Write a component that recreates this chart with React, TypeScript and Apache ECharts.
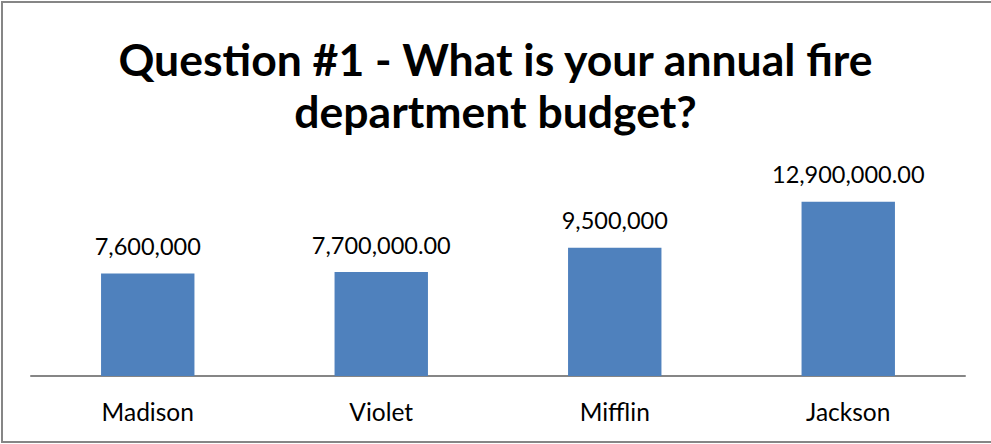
import React, { useEffect, useRef } from "react";
import * as echarts from "echarts";

const categories = ["Madison", "Violet", "Mifflin", "Jackson"];
const budgets = [7600000, 7700000, 9500000, 12900000];
const budgetLabels = ["7,600,000", "7,700,000.00", "9,500,000", "12,900,000.00"];
const titleLines = ["Question #1 - What is your annual fire", "department budget?"];

export default function App() {
  const ref = useRef<HTMLDivElement>(null);
  useEffect(() => {
    if (!ref.current) return;
    const chart = echarts.init(ref.current, null, { renderer: "svg" });
    chart.setOption({
      animation: false,
      backgroundColor: "#ffffff",
      textStyle: { fontFamily: "Lato" },
      title: {
        text: titleLines.join("\n"),
        left: "center",
        top: 27,
        textStyle: {
          fontFamily: "Lato",
          fontWeight: "bold",
          fontSize: 44.5,
          lineHeight: 52,
          color: "#000000",
        },
      },
      graphic: [
        {
          type: "polyline",
          shape: { points: [[1200, 2], [2, 2], [2, 442], [1200, 442]] },
          style: { fill: "none", stroke: "#868686", lineWidth: 2 },
          silent: true,
        },
      ],
      grid: { left: 31, right: 26, top: 187, bottom: 68, containLabel: false },
      xAxis: {
        type: "category",
        data: categories,
        axisLine: { show: true, lineStyle: { color: "#868686", width: 2 } },
        axisTick: { show: false },
        axisLabel: {
          color: "#000000",
          fontFamily: "Lato",
          fontSize: 24.5,
          lineHeight: 24,
          margin: 23,
        },
      },
      yAxis: {
        type: "value",
        min: 0,
        max: 14000000,
        interval: 2000000,
        show: false,
        splitLine: { show: false },
      },
      series: [
        {
          type: "bar",
          data: budgets,
          barWidth: "40%",
          itemStyle: { color: "#4F81BD" },
          label: {
            show: true,
            position: "top",
            distance: 16,
            color: "#000000",
            fontFamily: "Lato",
            fontSize: 23.5,
            lineHeight: 23,
            formatter: (p: any) => budgetLabels[p.dataIndex],
          },
        },
      ],
    });
    return () => chart.dispose();
  }, []);
  return <div ref={ref} style={{ width: 991, height: 444, position: "absolute", left: 0, top: 0 }} />;
}
